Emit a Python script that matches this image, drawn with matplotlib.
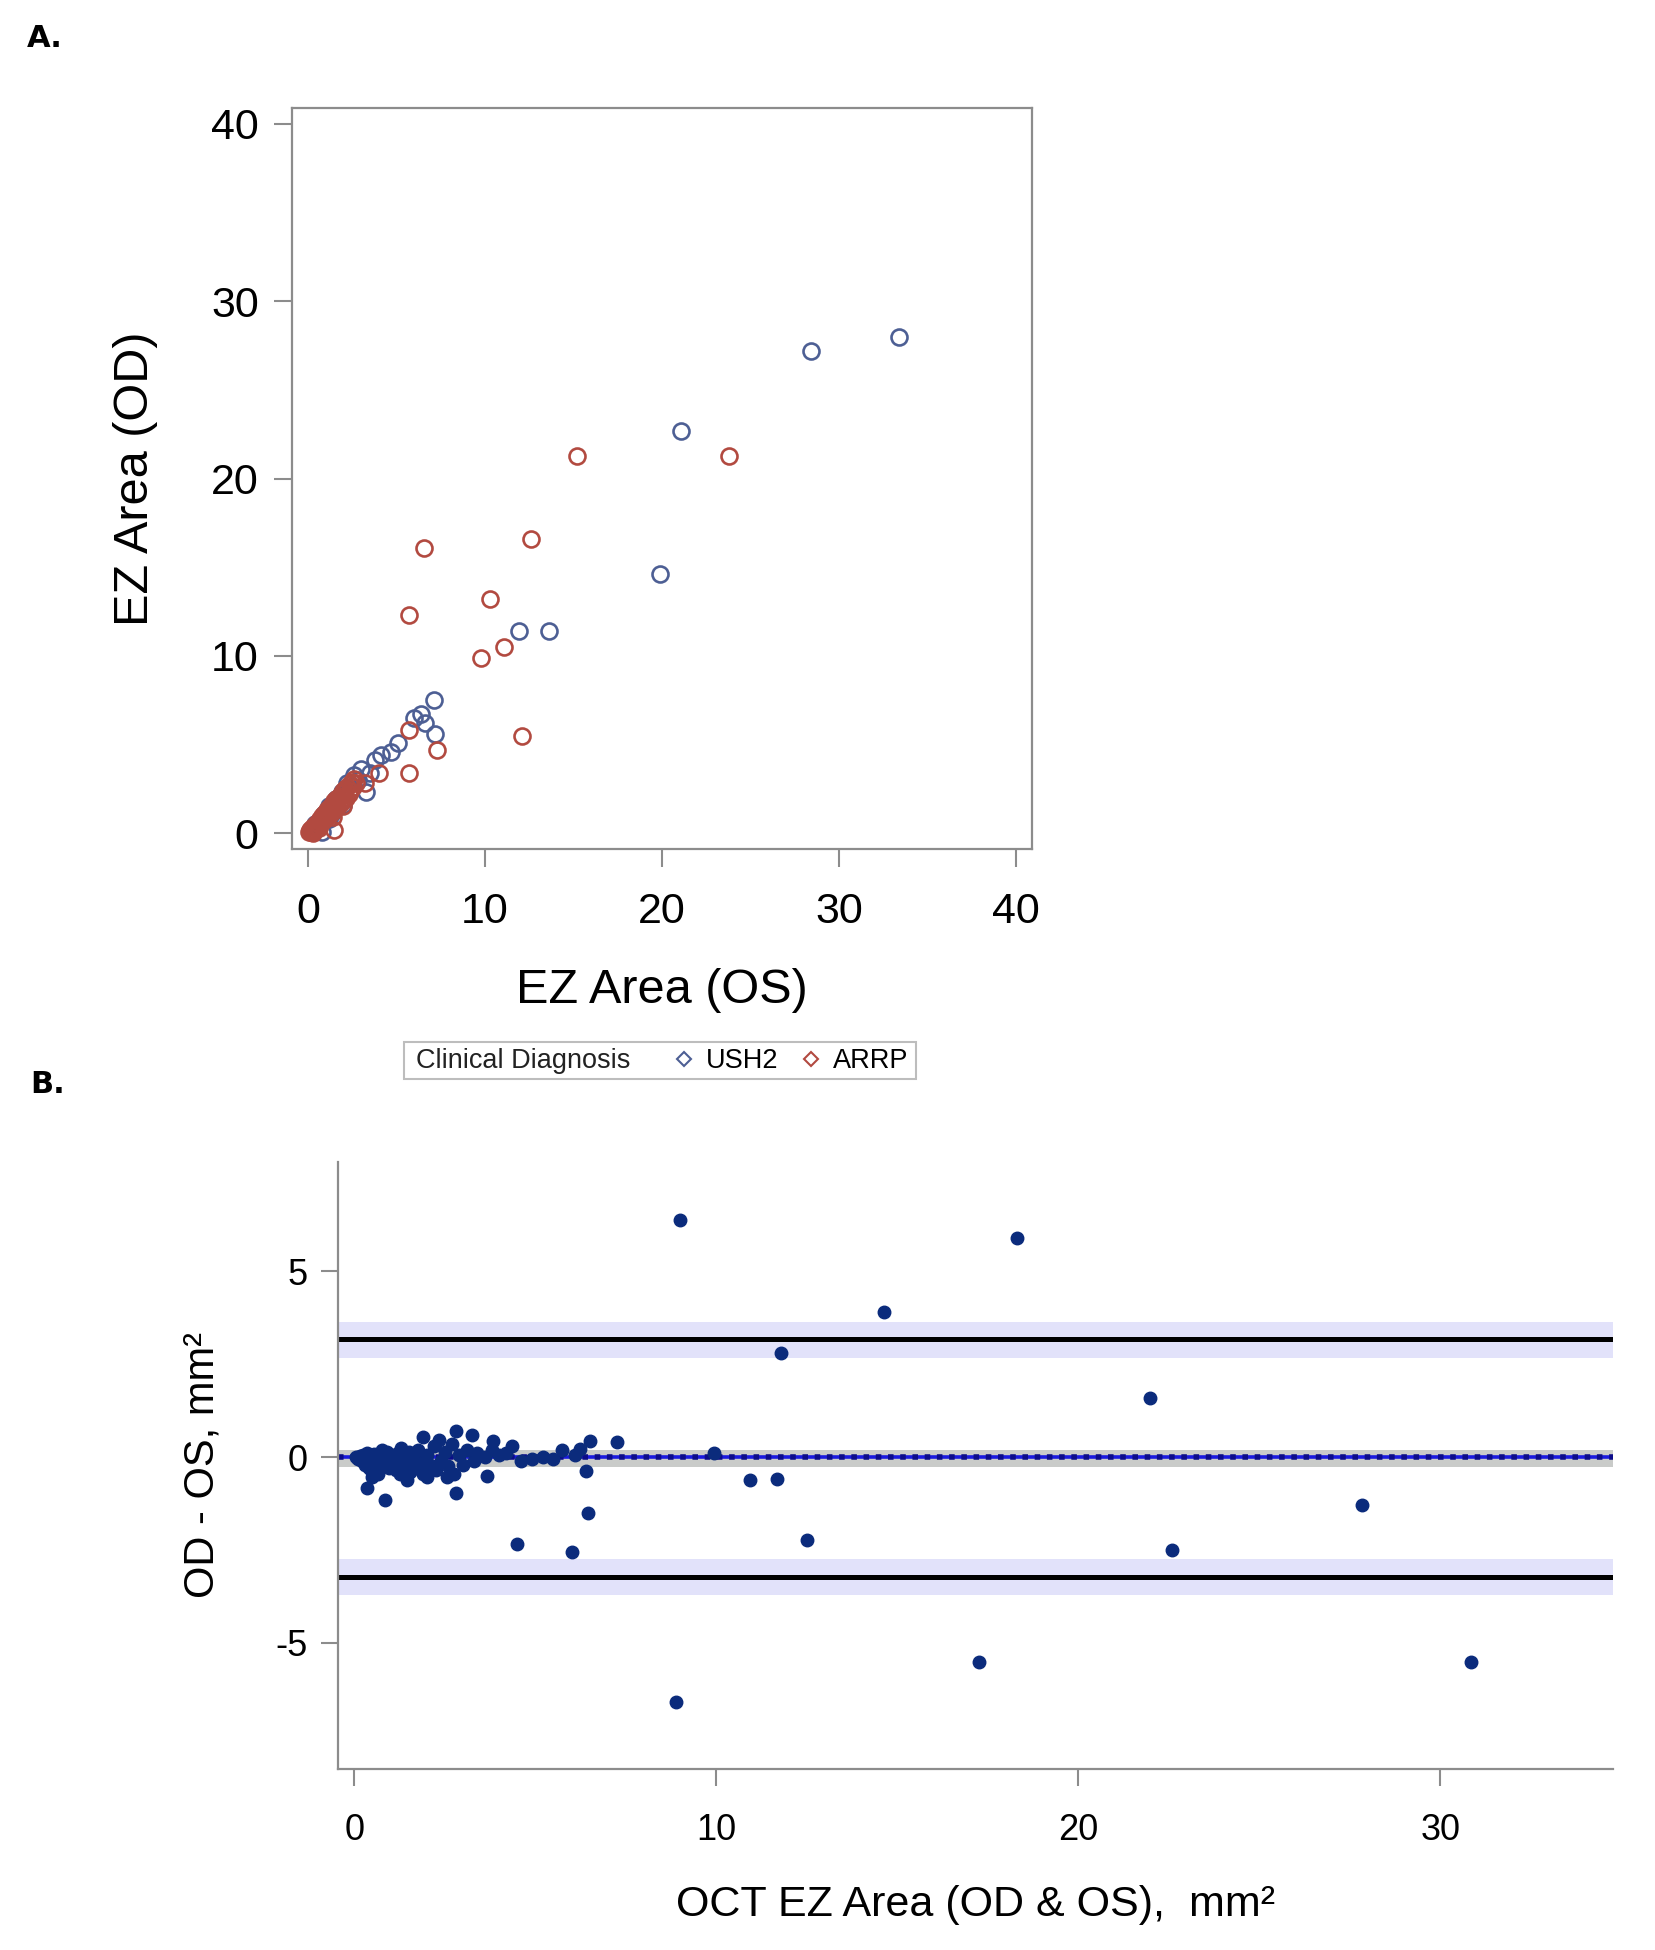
import matplotlib
matplotlib.use("Agg")
import matplotlib.pyplot as plt
from matplotlib.lines import Line2D
from matplotlib.patches import Rectangle

plt.rcParams['font.family'] = ['Liberation Sans', 'DejaVu Sans']
plt.rcParams['axes.unicode_minus'] = False

# ---------------- Panel A data: EZ area OS (x) vs OD (y) ----------------
ush2_os = [33.4, 28.4, 21.1, 19.9, 11.9, 13.6, 7.1, 7.2, 6.4, 6.0, 6.6, 5.1, 4.7, 4.1,
           3.8, 3.0, 3.3, 2.6, 2.2, 1.9, 1.6, 1.2, 0.9, 0.6, 0.4, 0.3, 0.8, 1.2, 2.0,
           2.8, 3.5, 0.15, 0.5, 1.4]
ush2_od = [28.0, 27.2, 22.7, 14.6, 11.4, 11.4, 7.5, 5.6, 6.7, 6.5, 6.2, 5.1, 4.6, 4.4,
           4.1, 3.6, 2.3, 3.3, 2.8, 2.3, 1.9, 1.5, 1.1, 0.6, 0.5, 0.2, 0.05, 0.8, 1.6,
           3.0, 3.4, 0.1, 0.3, 1.2]

arrp_os = [23.8, 15.2, 12.6, 6.55, 10.3, 5.7, 11.1, 9.8, 12.1, 7.3, 5.7, 5.7, 4.0, 1.5,
           3.2, 0.05, 0.1, 0.15, 0.2, 0.25, 0.3, 0.35, 0.4, 0.45, 0.5, 0.55, 0.6, 0.65,
           0.7, 0.75, 0.8, 0.85, 0.9, 0.95, 1.0, 1.05, 1.1, 1.15, 1.2, 1.25, 1.3, 1.35,
           1.4, 1.45, 1.5, 1.55, 1.6, 1.65, 1.7, 1.75, 1.8, 1.85, 1.9, 1.95, 2.0, 2.05,
           2.1, 2.15, 2.2, 2.3, 2.35, 2.4, 2.5, 2.55, 2.6, 2.7, 2.0, 1.4, 0.3, 0.6]
arrp_od = [21.25, 21.25, 16.6, 16.1, 13.2, 12.3, 10.5, 9.9, 5.5, 4.7, 3.4, 5.8, 3.4, 0.2,
           2.8, 0.05, 0.15, 0.05, 0.25, 0.1, 0.35, 0.2, 0.45, 0.3, 0.55, 0.35, 0.7, 0.5,
           0.8, 0.6, 0.95, 0.7, 1.05, 0.8, 1.2, 0.9, 1.3, 1.0, 1.4, 1.1, 1.55, 1.2,
           1.65, 1.3, 1.8, 1.4, 1.9, 1.5, 2.0, 1.6, 2.1, 1.7, 2.25, 1.8, 2.4, 1.9,
           2.5, 2.0, 2.6, 2.2, 2.75, 2.4, 2.9, 2.6, 3.05, 2.8, 1.5, 0.9, 0.0, 0.3]

# ---------------- Panel B data: Bland-Altman ----------------
ba_mean = [9.0, 18.3, 14.64, 11.8, 21.97, 7.25, 9.94, 10.93, 11.69, 27.84, 12.5, 22.6,
           17.26, 30.86, 8.88, 4.5, 6.02, 6.46, 6.39, 6.51, 6.23, 5.73, 3.66, 2.81, 0.85,
           0.34, 0.48, 1.45, 2.0, 2.55, 2.81, 3.24, 1.89, 2.34, 3.84, 4.35, 0.77, 1.3,
           4.6, 4.9,
           0.05, 0.1, 0.15, 0.2, 0.25, 0.3, 0.35, 0.4, 0.45, 0.5, 0.55, 0.6, 0.65, 0.7,
           0.75, 0.8, 0.9, 0.95, 1.0, 1.05, 1.1, 1.15, 1.2, 1.25, 1.3, 1.4, 1.5, 1.55,
           1.6, 1.7, 1.75, 1.8, 1.9, 2.0, 2.1, 2.2, 2.25, 2.4, 2.5, 2.6, 2.7, 2.75, 2.9,
           3.0, 3.1, 3.3, 3.4, 3.6, 3.8, 4.0, 4.2, 5.2, 5.5, 6.1]
ba_diff = [6.39, 5.89, 3.91, 2.79, 1.58, 0.41, 0.1, -0.62, -0.58, -1.29, -2.23, -2.5,
           -5.5, -5.5, -6.6, -2.34, -2.55, -1.5, -0.37, 0.43, 0.23, 0.2, -0.51, -0.96,
           -1.16, -0.82, -0.53, -0.62, -0.53, -0.53, 0.71, 0.59, 0.55, 0.45, 0.43, 0.3,
           0.2, 0.25, -0.1, -0.05,
           0.0, -0.05, 0.02, -0.1, 0.05, -0.2, 0.1, -0.3, -0.05, -0.4, 0.08, -0.15, -0.45,
           0.12, -0.25, -0.05, 0.15, -0.3, -0.1, 0.05, -0.2, -0.35, 0.1, -0.45, -0.05,
           -0.25, 0.15, -0.4, 0.0, -0.3, 0.2, -0.15, -0.45, 0.05, -0.2, 0.3, -0.35, -0.1,
           0.15, -0.25, 0.35, -0.45, 0.05, -0.2, 0.2, -0.1, 0.1, 0.0, 0.2, 0.05, 0.1, 0.0,
           -0.05, 0.05]

bias = 0.0
bias_ci = (-0.26, 0.19)
loa_upper = 3.17
loa_upper_ci = (2.66, 3.64)
loa_lower = -3.22
loa_lower_ci = (-3.71, -2.75)

a_ticks = [0, 10, 20, 30, 40]
b_xticks = [0, 10, 20, 30]
b_yticks = [-5, 0, 5]

W, H = 1656, 1950
fig = plt.figure(figsize=(W / 100, H / 100), dpi=100)

spine_col = '#8c8c8c'
ush2_col = '#4d5f94'
arrp_col = '#b24a40'

# ---------------- Panel A ----------------
ax1 = fig.add_axes([292 / W, 1 - 849 / H, (1032 - 292) / W, (849 - 108) / H])
ax1.plot(ush2_os, ush2_od, linestyle='none', marker='o', markersize=11.5,
         markerfacecolor='none', markeredgecolor=ush2_col, markeredgewidth=1.9)
ax1.plot(arrp_os, arrp_od, linestyle='none', marker='o', markersize=11.5,
         markerfacecolor='none', markeredgecolor=arrp_col, markeredgewidth=1.9)
ax1.set_xlim(-0.9, 40.9)
ax1.set_ylim(-0.9, 40.9)
ax1.set_xticks(a_ticks)
ax1.set_yticks(a_ticks)
for s in ax1.spines.values():
    s.set_color(spine_col)
    s.set_linewidth(1.6)
ax1.tick_params(direction='out', length=13, width=1.5, color=spine_col,
                labelsize=31, pad=11)
ax1.tick_params(axis='x', pad=18)
ax1.set_xlabel('EZ Area (OS)', fontsize=35, labelpad=26)
ax1.set_ylabel('EZ Area (OD)', fontsize=35, labelpad=38)

# legend for panel A
fig.add_artist(Rectangle((404 / W, 1 - 1079 / H), (916 - 404) / W, 37 / H,
                         transform=fig.transFigure, facecolor='white',
                         edgecolor='#bdbdbd', linewidth=1.5))
fig.text(416 / W, 1 - 1061 / H, 'Clinical Diagnosis', fontsize=19.5,
         ha='left', va='center', color='#222222')
h_u = Line2D([], [], linestyle='none', marker='D', markersize=7,
             markerfacecolor='none', markeredgecolor=ush2_col, markeredgewidth=1.5)
h_a = Line2D([], [], linestyle='none', marker='D', markersize=7,
             markerfacecolor='none', markeredgecolor=arrp_col, markeredgewidth=1.5)
fig.legend([h_u, h_a], ['USH2', 'ARRP'], ncol=2, loc='center left',
           bbox_to_anchor=(672 / W, 1 - 1061 / H), frameon=False, fontsize=19.5,
           handlelength=0.9, handletextpad=0.35, columnspacing=0.75, borderpad=0,
           borderaxespad=0)

# ---------------- Panel B ----------------
ax2 = fig.add_axes([338 / W, 1 - 1769 / H, (1613 - 338) / W, (1769 - 1162) / H])
ax2.axhspan(*loa_upper_ci, color='#e2e2fa', lw=0, zorder=1)
ax2.axhspan(*loa_lower_ci, color='#e2e2fa', lw=0, zorder=1)
ax2.axhspan(*bias_ci, color='#c9cbc9', lw=0, zorder=1)
ax2.axhline(loa_upper, color='black', lw=3.6, zorder=2)
ax2.axhline(loa_lower, color='black', lw=3.6, zorder=2)
ax2.axhline(bias, color='#1a1ae0', lw=2.6, zorder=2)
ax2.axhline(bias, color='#0c0c8a', lw=4.0, linestyle=(0, (1, 1.2)), zorder=2)
ax2.plot(ba_mean, ba_diff, linestyle='none', marker='o', markersize=9,
         markerfacecolor='#0b2b7c', markeredgecolor='#0b2b7c', zorder=3)
ax2.set_xlim(-0.45, 34.77)
ax2.set_ylim(-8.39, 7.94)
ax2.set_xticks(b_xticks)
ax2.set_yticks(b_yticks)
ax2.set_yticklabels([str(v) for v in b_yticks])
ax2.spines['top'].set_visible(False)
ax2.spines['right'].set_visible(False)
for k in ('left', 'bottom'):
    ax2.spines[k].set_color(spine_col)
    ax2.spines[k].set_linewidth(1.6)
ax2.tick_params(direction='out', length=12, width=1.5, color=spine_col,
                labelsize=26, pad=10)
ax2.tick_params(axis='x', pad=20)
ax2.set_xlabel('OCT EZ Area (OD & OS),  mm²', fontsize=31, labelpad=26)
ax2.set_ylabel('OD - OS, mm²', fontsize=30, labelpad=38)

# panel letters
fig.text(27 / W, 1 - 47 / H, 'A.', fontsize=22, fontweight='bold',
         family='DejaVu Sans', ha='left', va='baseline')
fig.text(30 / W, 1 - 1093 / H, 'B.', fontsize=22, fontweight='bold',
         family='DejaVu Sans', ha='left', va='baseline')

fig.savefig('out.png', dpi=100, facecolor='white')
